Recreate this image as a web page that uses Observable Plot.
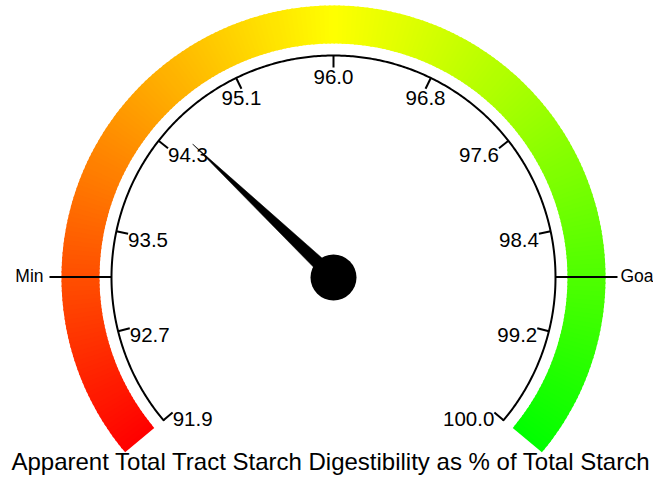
<!DOCTYPE html>
<html>
<head>
<meta charset="utf-8">
<script src="https://cdn.jsdelivr.net/npm/d3@7"></script>
<script src="https://cdn.jsdelivr.net/npm/@observablehq/plot@0.6"></script>
<style>
  html, body { margin: 0; padding: 0; background: #fff; overflow: hidden; }
  #chart svg { display: block; overflow: hidden; }
</style>
</head>
<body>
<div id="chart"></div>
<script>
// ---- data ----
const gaugeMin = 91.9;
const gaugeMax = 100.0;
const tickValues = [91.9, 92.71, 93.52, 94.33, 95.14, 95.95, 96.76, 97.57, 98.38, 99.19, 100.0];
const tickLabels = ["91.9", "92.7", "93.5", "94.3", "95.1", "96.0", "96.8", "97.6", "98.4", "99.2", "100.0"];
const markerLabels = ["Min", "Goa"];
const markerValues = [93.15, 98.75];
const needleValue = 94.5;
const bandColors = ["#ff0000", "#ffff00", "#00ff00"];
const title = "Apparent Total Tract Starch Digestibility as % of Total Starch";

// ---- geometry ----
const W = 653, H = 477;
const sweep = 130;                       // degrees each side of vertical
const angle = d3.scaleLinear([gaugeMin, gaugeMax], [-sweep, sweep]);
const rBandIn = 234, rBandOut = 272, rArc = 222, rTickIn = 210, rMarkOut = 284, rNeedle = 194;
const rad = a => a * Math.PI / 180;
const pt = (a, r) => ({x: r * Math.sin(rad(a)), y: r * Math.cos(rad(a))});
const color = d3.scaleLinear([0, 0.5, 1], bandColors).interpolate(d3.interpolateRgb);

// band segments (polygons)
const nSeg = 260;
const band = [];
for (let i = 0; i < nSeg; i++) {
  const t0 = i / nSeg, t1 = Math.min(1, (i + 1) / nSeg + 0.0015);
  const v0 = gaugeMin + t0 * (gaugeMax - gaugeMin), v1 = gaugeMin + t1 * (gaugeMax - gaugeMin);
  const a0 = angle(v0), a1 = angle(v1);
  const c = color((t0 + (i + 1) / nSeg) / 2);
  [pt(a0, rBandIn), pt(a0, rBandOut), pt(a1, rBandOut), pt(a1, rBandIn)]
    .forEach(p => band.push({...p, seg: i, c}));
}

// arc
const arc = d3.range(-sweep, sweep + 0.001, 0.5).map(a => pt(a, rArc));

// ticks
const ticks = tickValues.map((v, i) => {
  const a = angle(v);
  const p1 = pt(a, rArc), p2 = pt(a, rTickIn);
  return {x1: p1.x, y1: p1.y, x2: p2.x, y2: p2.y, a, label: tickLabels[i]};
});

// markers
const markers = markerValues.map((v, i) => {
  const a = angle(v);
  const p1 = pt(a, rArc), p2 = pt(a, rMarkOut);
  return {x1: p1.x, y1: p1.y, x2: p2.x, y2: p2.y, a, label: markerLabels[i]};
});

// needle polygon
const na = angle(needleValue);
const tip = pt(na, rNeedle);
const bl = pt(na - 90, 7), br = pt(na + 90, 7);
const needle = [bl, tip, br];

const font = "Arial, 'Liberation Sans', sans-serif";
const tickFont = 20.5;

const plot = Plot.plot({
  width: W,
  height: H,
  margin: 0,
  x: {domain: [-333, 320], axis: null},
  y: {domain: [-200, 277], axis: null},
  style: {fontFamily: font, background: "#fff"},
  marks: [
    Plot.line(band, {x: "x", y: "y", z: "seg", fill: "c", stroke: null, curve: "linear-closed"}),
    Plot.line(arc, {x: "x", y: "y", stroke: "black", strokeWidth: 2}),
    Plot.link(ticks, {x1: "x1", y1: "y1", x2: "x2", y2: "y2", stroke: "black", strokeWidth: 2}),
    Plot.link(markers, {x1: "x1", y1: "y1", x2: "x2", y2: "y2", stroke: "black", strokeWidth: 2}),
    Plot.text(ticks.filter(d => d.a < -27), {x: "x2", y: "y2", text: "label", textAnchor: "start", lineAnchor: "top", fontSize: tickFont, fill: "black", dy: -1}),
    Plot.text(ticks.filter(d => Math.abs(d.a) <= 27), {x: "x2", y: "y2", text: "label", textAnchor: "middle", lineAnchor: "top", fontSize: tickFont, fill: "black", dy: 2}),
    Plot.text(ticks.filter(d => d.a > 27), {x: "x2", y: "y2", text: "label", textAnchor: "end", lineAnchor: "top", fontSize: tickFont, fill: "black", dy: -1}),
    Plot.text(markers.filter(d => d.a < 0), {x: "x2", y: "y2", text: "label", textAnchor: "end", lineAnchor: "middle", fontSize: 17.5, fill: "black", dx: -6}),
    Plot.text(markers.filter(d => d.a > 0), {x: "x2", y: "y2", text: "label", textAnchor: "start", lineAnchor: "middle", fontSize: 17.5, fill: "black", dx: 3}),
    Plot.line(needle, {x: "x", y: "y", fill: "black", stroke: "black", strokeWidth: 0.5, curve: "linear-closed"}),
    Plot.dot([{x: 0, y: 0}], {x: "x", y: "y", r: 23, fill: "black", stroke: null}),
    Plot.text([title], {frameAnchor: "bottom", text: d => d, fontSize: 24, fill: "black", lineAnchor: "bottom", dx: 3.5, dy: -8})
  ]
});
document.getElementById("chart").append(plot);
</script>
</body>
</html>
